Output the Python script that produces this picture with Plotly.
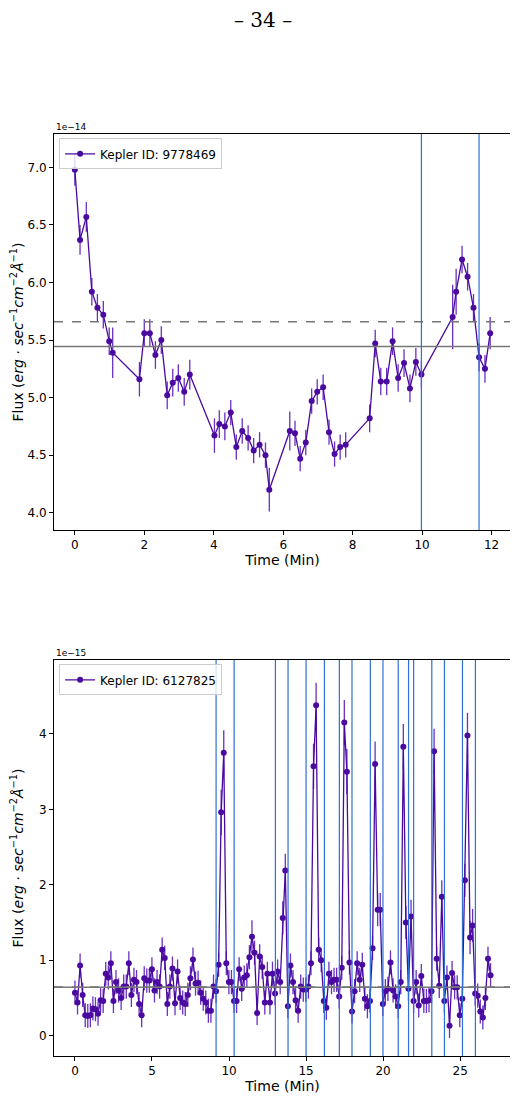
import plotly.graph_objects as go

# ---- Top panel: Kepler ID 9778469 (flux in units of 1e-14) ----
t1 = [0.0, 0.15, 0.33, 0.49, 0.65, 0.82, 0.99, 1.09, 1.86, 2.0, 2.16, 2.32, 2.49, 2.66, 2.82, 2.98,
      3.15, 3.31, 4.02, 4.16, 4.32, 4.49, 4.65, 4.82, 4.99, 5.15, 5.32, 5.49, 5.60, 6.19, 6.34, 6.49,
      6.65, 6.82, 6.98, 7.15, 7.32, 7.48, 7.64, 7.80, 8.49, 8.65, 8.81, 8.98, 9.15, 9.31, 9.48, 9.65,
      9.82, 9.98, 10.88, 10.98, 11.15, 11.31, 11.48, 11.64, 11.81, 11.96]
f1 = [6.98, 6.37, 6.57, 5.92, 5.78, 5.72, 5.49, 5.39, 5.16, 5.56, 5.56, 5.37, 5.50, 5.02, 5.13, 5.17,
      5.05, 5.20, 4.67, 4.77, 4.75, 4.87, 4.57, 4.71, 4.65, 4.54, 4.59, 4.50, 4.20, 4.71, 4.69, 4.47,
      4.61, 4.97, 5.05, 5.09, 4.70, 4.51, 4.57, 4.59, 4.82, 5.47, 5.14, 5.14, 5.49, 5.17, 5.30, 5.08,
      5.31, 5.20, 5.70, 5.92, 6.20, 6.05, 5.78, 5.35, 5.25, 5.56]
e1 = [0.14, 0.13, 0.13, 0.12, 0.12, 0.12, 0.12, 0.22, 0.15, 0.12, 0.12, 0.12, 0.12, 0.12, 0.12, 0.12,
      0.12, 0.13, 0.15, 0.12, 0.12, 0.11, 0.11, 0.11, 0.11, 0.11, 0.11, 0.11, 0.19, 0.17, 0.11, 0.11,
      0.11, 0.11, 0.11, 0.11, 0.11, 0.11, 0.11, 0.11, 0.12, 0.12, 0.12, 0.12, 0.12, 0.12, 0.12, 0.12,
      0.12, 0.12, 0.28, 0.2, 0.12, 0.12, 0.12, 0.12, 0.12, 0.14]
mean1 = 5.445
thresh1 = 5.66
flares1 = [9.98, 11.64]

# ---- Bottom panel: Kepler ID 6127825 (flux in units of 1e-15) ----
CADENCE = 0.1665  # min between samples
f2 = [0.57, 0.44, 0.93, 0.54, 0.27, 0.26, 0.27, 0.36, 0.35, 0.29,
      0.47, 0.46, 0.82, 0.77, 0.96, 0.46, 0.71, 0.60, 0.50, 0.65,
      0.65, 0.96, 0.54, 0.74, 0.71, 0.42, 0.27, 0.76, 0.73, 0.73,
      0.88, 0.60, 0.71, 0.65, 1.14, 1.03, 0.42, 0.65, 0.89, 0.43,
      0.85, 0.50, 0.44, 0.42, 0.54, 0.76, 1.01, 0.69, 0.70, 0.57,
      0.49, 0.44, 0.33, 0.33, 0.65, 0.59, 0.94, 2.96, 3.75, 0.96,
      0.71, 0.71, 0.46, 0.46, 0.88, 0.62, 0.77, 0.80, 1.04, 1.31,
      1.10, 0.30, 1.05, 0.91, 0.44, 0.82, 0.44, 0.82, 0.56, 0.85,
      0.71, 1.56, 2.19, 0.39, 0.93, 0.71, 0.47, 0.33, 0.65, 0.61,
      0.61, 0.65, 0.96, 3.57, 4.38, 1.14, 1.00, 0.46, 0.37, 0.82,
      0.71, 0.74, 0.74, 0.52, 0.90, 4.15, 3.50, 0.97, 0.32, 0.59,
      0.96, 0.74, 0.94, 0.49, 0.39, 0.46, 1.16, 3.60, 1.67, 1.67,
      0.42, 0.59, 0.62, 0.97, 0.60, 0.52, 0.39, 0.71, 3.83, 1.50,
      0.62, 1.58, 0.46, 0.71, 0.40, 0.79, 0.46, 0.46, 0.47, 0.59,
      3.77, 1.02, 0.66, 1.84, 0.46, 0.77, 0.13, 0.83, 0.64, 0.64,
      0.27, 0.49, 2.06, 3.98, 1.30, 1.46, 0.56, 0.53, 0.32, 0.24,
      0.50, 1.02, 0.80]
t2 = [round(i * CADENCE, 4) for i in range(len(f2))]
e2 = [0.3 if v > 2.5 else (0.22 if v > 1.2 else 0.16) for v in f2]
mean2 = 0.64
thresh2 = 0.645
flares2 = [9.16, 10.33, 13.01, 13.83, 15.0, 16.19, 17.16, 17.98, 19.17, 19.99, 20.98,
           21.65, 21.98, 23.16, 23.98, 25.15, 25.99]

PURPLE = "#4a0aa0"
BLUE = "#2f6fd8"
GRAY = "#777777"

W, H = 510, 1090
XD = [46 / W, 503 / W]
YD1 = [(H - 522) / H, (H - 126) / H]
YD2 = [(H - 1048) / H, (H - 652) / H]

fig = go.Figure()
for (t, f, e, name, xa, ya, leg) in [(t1, f1, e1, "Kepler ID: 9778469", "x", "y", "legend"),
                                     (t2, f2, e2, "Kepler ID: 6127825", "x2", "y2", "legend2")]:
    fig.add_trace(go.Scatter(x=t, y=f, mode="lines+markers", name=name, xaxis=xa, yaxis=ya,
                             legend=leg, showlegend=True,
                             line=dict(color=PURPLE, width=1.3),
                             marker=dict(color=PURPLE, size=6),
                             error_y=dict(type="data", array=e, color="#6a30c0", thickness=1.3, width=0)))

shapes = []
for yv, dash, xr, yr in [(mean1, "solid", "x", "y"), (thresh1, "dash", "x", "y"),
                         (mean2, "solid", "x2", "y2"), (thresh2, "dash", "x2", "y2")]:
    shapes.append(dict(type="line", xref=xr + " domain", yref=yr, x0=0, x1=1, y0=yv, y1=yv,
                       line=dict(color=GRAY, width=1.5, dash=dash)))
for xv in flares1:
    shapes.append(dict(type="line", xref="x", yref="y domain", x0=xv, x1=xv, y0=0, y1=1,
                       line=dict(color=BLUE, width=1.2)))
for xv in flares2:
    shapes.append(dict(type="line", xref="x2", yref="y2 domain", x0=xv, x1=xv, y0=0, y1=1,
                       line=dict(color=BLUE, width=1.2)))

FONT = "DejaVu Sans"
ytitle = "Flux (<i>erg · sec</i><sup>−1</sup><i>cm</i><sup>−2</sup><i>Å</i><sup>−1</sup>)"
ax = dict(showline=True, linecolor="black", linewidth=1, mirror=True, ticks="outside",
          ticklen=4, tickcolor="black", showgrid=False, zeroline=False,
          tickfont=dict(size=12, color="black"))
legstyle = dict(xanchor="left", yanchor="top", xref="paper", yref="paper",
                bgcolor="rgba(255,255,255,0.8)", bordercolor="#cccccc", borderwidth=1,
                font=dict(size=12))

fig.update_layout(
    width=W, height=H, margin=dict(l=0, r=0, t=0, b=0),
    plot_bgcolor="white", paper_bgcolor="white",
    font=dict(family=FONT, color="black"),
    shapes=shapes,
    xaxis=dict(ax, domain=XD, anchor="y", range=[-0.6, 12.56], dtick=2,
               title=dict(text="Time (Min)", font=dict(size=14), standoff=2)),
    yaxis=dict(ax, domain=YD1, anchor="x", range=[3.85, 7.29], dtick=0.5,
               tickformat=".1f", title=dict(text=ytitle, font=dict(size=14), standoff=6)),
    xaxis2=dict(ax, domain=XD, anchor="y2", range=[-1.36, 28.3], dtick=5,
                title=dict(text="Time (Min)", font=dict(size=14), standoff=2)),
    yaxis2=dict(ax, domain=YD2, anchor="x2", range=[-0.27, 4.98], dtick=1,
                title=dict(text=ytitle, font=dict(size=14), standoff=14)),
    legend=dict(legstyle, x=XD[0] + 0.01, y=YD1[1] - 0.004),
    legend2=dict(legstyle, x=XD[0] + 0.01, y=YD2[1] - 0.004),
    annotations=[
        dict(text="– 34 –", x=0.5, y=1 - 12 / H, xref="paper", yref="paper", showarrow=False,
             yanchor="middle", font=dict(family="DejaVu Serif", size=20)),
        dict(text="1e−14", x=XD[0], y=YD1[1], xref="paper", yref="paper", xanchor="left",
             yanchor="bottom", showarrow=False, font=dict(size=9)),
        dict(text="1e−15", x=XD[0], y=YD2[1], xref="paper", yref="paper", xanchor="left",
             yanchor="bottom", showarrow=False, font=dict(size=9)),
    ],
)
fig.write_html("out.html")
